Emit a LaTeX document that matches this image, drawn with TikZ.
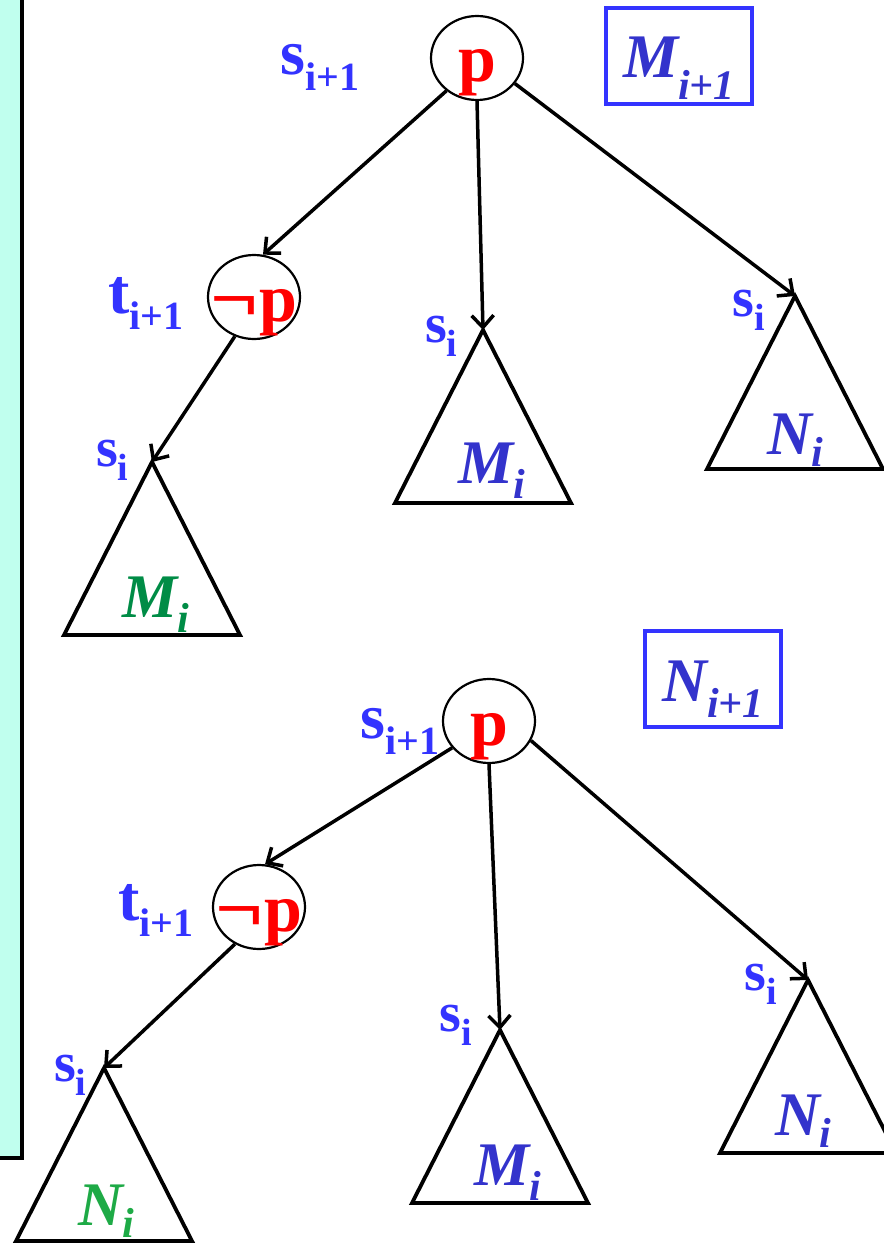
\documentclass[tikz,border=0pt]{standalone}
\usepackage{fontspec}
\setmainfont{Liberation Serif}
\usepackage{tikz}
\usetikzlibrary{shapes.geometric, arrows.meta}
\definecolor{LblBlue}{RGB}{51,51,255}
\definecolor{SetBlue}{RGB}{51,51,204}
\definecolor{PropRed}{RGB}{255,0,0}
\definecolor{LeafGreen}{RGB}{0,140,70}
\definecolor{LeafLime}{RGB}{30,170,70}
\definecolor{PanelCyan}{RGB}{192,255,238}

\newcommand{\stname}[2]{{\fontsize{64}{64}\selectfont\bfseries #1}\raisebox{-16pt}{\fontsize{40}{40}\selectfont\bfseries #2}}
\newcommand{\siname}{{\fontsize{56}{56}\selectfont\bfseries s}\raisebox{-14pt}{\fontsize{38}{38}\selectfont\bfseries i}}
\newcommand{\setname}[3]{{\fontsize{62}{62}\selectfont\bfseries\itshape #1}\raisebox{-#3}{\fontsize{42}{42}\selectfont\bfseries\itshape #2}}
\newcommand{\lowtext}[1]{\raisebox{-24pt}[0pt][0pt]{\makebox[0pt]{#1}}}
\newcommand{\negsign}{\scalebox{1.25}[1]{\char"00AC}}

\begin{document}
\begin{tikzpicture}[x=1pt, y=-1pt,
      prop/.style={ellipse, draw, line width=2.2pt, minimum width=92pt,
                   minimum height=84pt, inner sep=0pt, text=PropRed,
                   font=\fontsize{68}{68}\selectfont\bfseries},
      lbl/.style={anchor=base west, inner sep=0pt, text=LblBlue},
      setbox/.style={rectangle, draw=LblBlue, line width=3.8pt, inner sep=0pt,
                     minimum width=146pt, minimum height=96pt, text=SetBlue},
      tri/.style={line width=3.8pt, line join=miter},
      arr/.style={-{Straight Barb[length=12pt, width=22pt]}, line width=3.5pt}
    ]
    \useasboundingbox (0,0) rectangle (883,1244);

    % Side panel
    \fill[PanelCyan] (0,0) rectangle (22,1158);
    \draw[line width=4.5pt] (22,0) -- (22,1158) -- (0,1158);

    % Top tree: M_{i+1}
    \node[setbox] (boxM) at (679,56) {\raisebox{-22pt}[0pt][0pt]{\setname{M}{i+1}{22pt}}};
    \node[prop] (rootM) at (477,58) {\lowtext{p}};
    \node[prop] (negM) at (254,297) {\lowtext{\negsign p}};
    \node[lbl] (sRootM) at (280,75) {\stname{s}{i+1}};
    \node[lbl] (tNegM) at (108,313) {\stname{t}{i+1}};

    % Bottom tree: N_{i+1}
    \node[setbox, minimum width=136pt] (boxN) at (713,679) {\raisebox{-22pt}[0pt][0pt]{\setname{N}{i+1}{16pt}}};
    \node[prop] (rootN) at (489,721) {\lowtext{p}};
    \node[prop] (negN) at (259,907) {\lowtext{\negsign p}};
    \node[lbl] (sRootN) at (360,738) {\stname{s}{i+1}};
    \node[lbl] (tNegN) at (118,920) {\stname{t}{i+1}};

    % Subtrees
    \foreach \apex/\x/\y in {apexMM/483/330, apexMN/795/296, apexMG/152/462,
                             apexNM/500/1030, apexNN/808/980, apexNG/104/1068} {
      \coordinate (\apex) at (\x,\y);
      \draw[tri] (\apex) -- ++(-88,173) -- ++(176,0) -- cycle;
    }

    % Labels of the subtrees
    \node[lbl] (sMM) at (425,342) {\siname};
    \node[lbl] (sMN) at (732,316) {\siname};
    \node[lbl] (sMG) at (96,466) {\siname};
    \node[lbl] (sNM) at (439,1031) {\siname};
    \node[lbl] (sNN) at (744,990) {\siname};
    \node[lbl] (sNG) at (54,1081) {\siname};

    \node[lbl, text=SetBlue]   (leafMM) at (458,483)  {\setname{M}{i}{15pt}};
    \node[lbl, text=SetBlue]   (leafMN) at (767,454)  {\setname{N}{i}{12pt}};
    \node[lbl, text=LeafGreen] (leafMG) at (122,617)  {\setname{M}{i}{15pt}};
    \node[lbl, text=SetBlue]   (leafNM) at (474,1185) {\setname{M}{i}{15pt}};
    \node[lbl, text=SetBlue]   (leafNN) at (775,1135) {\setname{N}{i}{12pt}};
    \node[lbl, text=LeafLime]  (leafNG) at (78,1225)  {\setname{N}{i}{12pt}};

    % Arrows
    \draw[arr] (rootM.227) -- (negM.78);
    \draw[arr] (rootM.south) -- (apexMM);
    \draw[arr] (rootM.-34) -- (apexMN);
    \draw[arr] (negM.244) -- (apexMG);
    \draw[arr] (rootN.216) -- (negN.82);
    \draw[arr] (rootN.south) -- (apexNM);
    \draw[arr] (rootN.-25) -- (apexNN);
    \draw[arr] (negN.237) -- (apexNG);
  \end{tikzpicture}
\end{document}
